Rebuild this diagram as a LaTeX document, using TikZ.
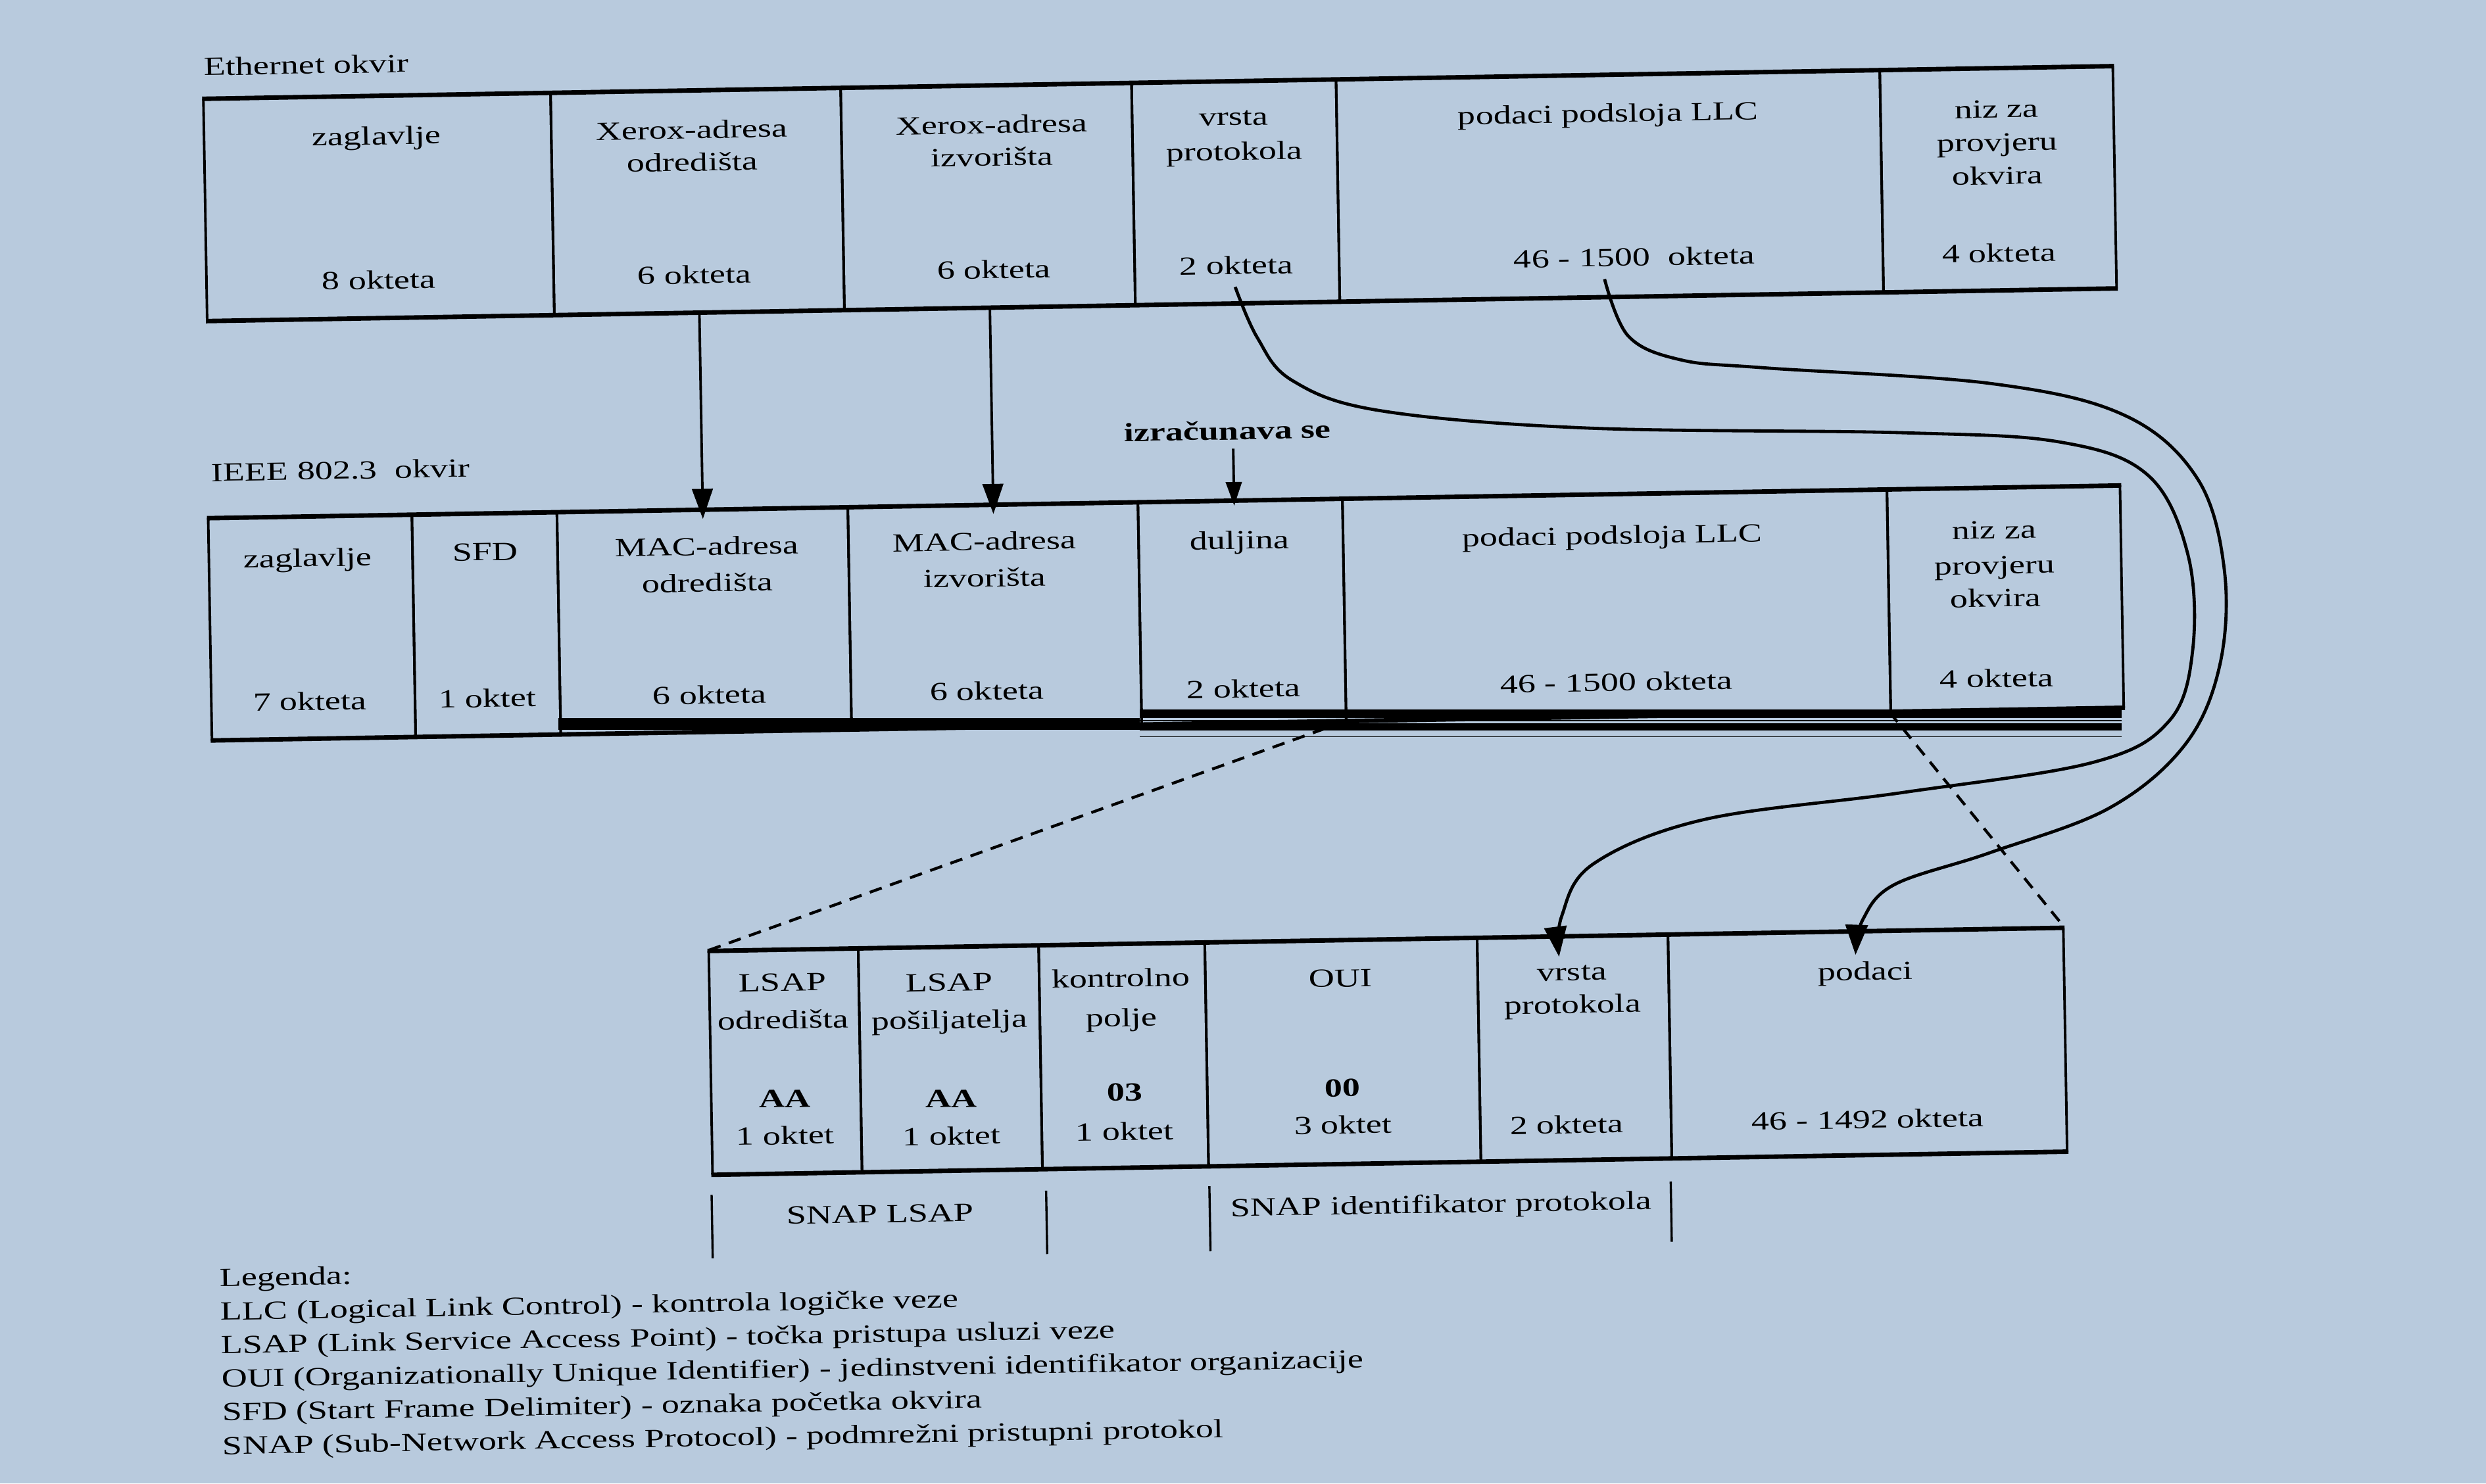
\documentclass[tikz,border=0pt]{standalone}
\usepackage{fontspec}
\setmainfont{Liberation Serif}[FakeStretch=1.36]
\usetikzlibrary{arrows.meta}
\definecolor{bgblue}{RGB}{184,202,221}
\newcommand{\myfs}{\fontsize{16.5}{18}\selectfont}
\newcommand{\mylegfs}{\fontsize{16.5}{21.2}\selectfont}
\begin{document}
\begin{tikzpicture}[x=1pt,y=-1pt,
  cell/.style={draw, line width=1.6pt, inner sep=0pt, anchor=north west, minimum height=139pt},
  frameline/.style={line width=2.5pt},
  lbl/.style={font=\myfs, inner sep=0pt, anchor=base},
  lblw/.style={font=\myfs, inner sep=0pt, anchor=base west},
  arr/.style={line width=1.6pt, -{Triangle[length=19pt,width=13pt]}},
  arrsmall/.style={line width=1.6pt, -{Triangle[length=15pt,width=10pt]}},
  curvearr/.style={line width=2pt, -{Triangle[length=19pt,width=14pt]}},
  dashline/.style={line width=1.8pt, dash pattern=on 8pt off 5.5pt},
  brk/.style={line width=1.4pt}]
\fill[bgblue] (0,0) rectangle (1568,936);
\useasboundingbox (0,0) rectangle (1568,936);
\begin{scope}[rotate around={0.98:(784,468)}, transform shape]
% ---------- Ethernet frame ----------
\node[lblw] (etl) at (136,36.5) {Ethernet okvir};
\node[cell, minimum width=219pt] (e1) at (134.5,51) {};
\node[cell, minimum width=183pt] (e2) at (353.5,51) {};
\node[cell, minimum width=183.5pt] (e3) at (536.5,51) {};
\node[cell, minimum width=129pt] (e4) at (720,51) {};
\node[cell, minimum width=343pt] (e5) at (849,51) {};
\node[cell, minimum width=147pt] (e6) at (1192,51) {};
\draw[frameline] (e1.north west) -- (e6.north east);
\draw[frameline] (e1.south west) -- (e6.south east);
\node[lbl] (e1a) at (244,82) {zaglavlje};
\node[lbl] (e1b) at (244,173) {8 okteta};
\node[lbl] (e2a) at (443,81.5) {Xerox-adresa};
\node[lbl] (e2b) at (443,102) {odredišta};
\node[lbl] (e2c) at (443,173) {6 okteta};
\node[lbl] (e3a) at (632,81.5) {Xerox-adresa};
\node[lbl] (e3b) at (632,102) {izvorišta};
\node[lbl] (e3c) at (632,173) {6 okteta};
\node[lbl] (e4a) at (785,79) {vrsta};
\node[lbl] (e4b) at (785,101) {protokola};
\node[lbl] (e4c) at (785,173) {2 okteta};
\node[lbl] (e5a) at (1021,81) {podaci podsloja LLC};
\node[lbl] (e5b) at (1036,172) {46 - 1500\ \ okteta};
\node[lbl] (e6a) at (1266,82.5) {niz za};
\node[lbl] (e6b) at (1266,103.5) {provjeru};
\node[lbl] (e6c) at (1266,124.5) {okvira};
\node[lbl] (e6d) at (1266,173.5) {4 okteta};
% ---------- IEEE 802.3 frame ----------
\node[lblw] (itl) at (136,292.6) {IEEE 802.3\ \ okvir};
\node[cell, minimum width=128.5pt] (i1) at (133,315.6) {};
\node[cell, minimum width=91.5pt] (i2) at (261.5,315.6) {};
\node[cell, minimum width=183.5pt] (i3) at (353,315.6) {};
\node[cell, minimum width=183pt] (i4) at (536.5,315.6) {};
\node[cell, minimum width=129pt] (i5) at (719.5,315.6) {};
\node[cell, minimum width=343.5pt] (i6) at (848.5,315.6) {};
\node[cell, minimum width=147pt] (i7) at (1192,315.6) {};
\draw[frameline] (i1.north west) -- (i7.north east);
\draw[frameline] (i1.south west) -- (i7.south east);
\node[lbl] (i1a) at (196,347.4) {zaglavlje};
\node[lbl] (i1b) at (196,438) {7 okteta};
\node[lbl] (i2a) at (308,345.5) {SFD};
\node[lbl] (i2b) at (308,438) {1 oktet};
\node[lbl] (i3a) at (448,344.5) {MAC-adresa};
\node[lbl] (i3b) at (448,367.5) {odredišta};
\node[lbl] (i3c) at (448,438.2) {6 okteta};
\node[lbl] (i4a) at (623,344.3) {MAC-adresa};
\node[lbl] (i4b) at (623,367.4) {izvorišta};
\node[lbl] (i4c) at (623,438.8) {6 okteta};
\node[lbl] (i5a) at (784,346.3) {duljina};
\node[lbl] (i5b) at (785,440) {2 okteta};
\node[lbl] (i6a) at (1019,347.2) {podaci podsloja LLC};
\node[lbl] (i6b) at (1020,440) {46 - 1500 okteta};
\node[lbl] (i7a) at (1260,348) {niz za};
\node[lbl] (i7b) at (1260,370.3) {provjeru};
\node[lbl] (i7c) at (1260,391) {okvira};
\node[lbl] (i7d) at (1260,441.7) {4 okteta};
\node[lbl, font=\myfs\bfseries] (izr) at (777.6,277.3) {izračunava se};
% ---------- SNAP frame ----------
\node[cell, minimum width=94.3pt, minimum height=140pt] (s1) at (444,594) {};
\node[cell, minimum width=113.8pt, minimum height=140pt] (s2) at (538.3,594) {};
\node[cell, minimum width=104.8pt, minimum height=140pt] (s3) at (652.1,594) {};
\node[cell, minimum width=171.8pt, minimum height=140pt] (s4) at (756.9,594) {};
\node[cell, minimum width=120.4pt, minimum height=140pt] (s5) at (928.7,594) {};
\node[cell, minimum width=249.4pt, minimum height=140pt] (s6) at (1049.1,594) {};
\draw[frameline] (s1.north west) -- (s6.north east);
\draw[frameline] (s1.south west) -- (s6.south east);
\node[lbl] (s1a) at (491,620.3) {LSAP};
\node[lbl] (s1b) at (491,644) {odredišta};
\node[lbl, font=\myfs\bfseries] (s1c) at (491,693.6) {AA};
\node[lbl] (s1d) at (491,717) {1 oktet};
\node[lbl] (s2a) at (596,622) {LSAP};
\node[lbl] (s2b) at (596,645.7) {pošiljatelja};
\node[lbl, font=\myfs\bfseries] (s2c) at (596,695.4) {AA};
\node[lbl] (s2d) at (596,719) {1 oktet};
\node[lbl] (s3a) at (704.5,621.3) {kontrolno};
\node[lbl] (s3b) at (704.5,646.2) {polje};
\node[lbl, font=\myfs\bfseries] (s3c) at (705.5,693.2) {03};
\node[lbl] (s3d) at (705,718) {1 oktet};
\node[lbl] (s4a) at (843,623.7) {OUI};
\node[lbl, font=\myfs\bfseries] (s4c) at (843,692.8) {00};
\node[lbl] (s4d) at (843,716.3) {3 oktet};
\node[lbl] (s5a) at (989,622.1) {vrsta};
\node[lbl] (s5b) at (989,642.8) {protokola};
\node[lbl] (s5d) at (984,718.6) {2 okteta};
\node[lbl] (s6a) at (1174,625) {podaci};
\node[lbl] (s6d) at (1174,718.5) {46 - 1492 okteta};
% brackets under SNAP frame
\coordinate (b1t) at (444,748); \coordinate (b1b) at (444,788);
\coordinate (b2t) at (655,749); \coordinate (b2b) at (655,789);
\coordinate (b3t) at (758,748); \coordinate (b3b) at (758,789);
\coordinate (b4t) at (1049,750); \coordinate (b4b) at (1049,788);
\draw[brk] (b1t) -- (b1b);
\draw[brk] (b2t) -- (b2b);
\draw[brk] (b3t) -- (b3b);
\draw[brk] (b4t) -- (b4b);
\node[lbl] (sl1) at (550,767.3) {SNAP LSAP};
\node[lbl] (sl2) at (904,767.3) {SNAP identifikator protokola};
% legend (anchor on the baseline of its last line)
\node[font=\mylegfs, inner sep=0pt, anchor=base west, align=left] (lg) at (132.8,906.5) {Legenda:\\
LLC (Logical Link Control) - kontrola logičke veze\\
LSAP (Link Service Access Point) - točka pristupa usluzi veze\\
OUI (Organizationally Unique Identifier) - jedinstveni identifikator organizacije\\
SFD (Start Frame Delimiter) - oznaka početka okvira\\
SNAP (Sub-Network Access Protocol) - podmrežni pristupni protokol};
% straight arrows
\draw[arr] (e2.south) -- ++(0,130);
\draw[arr] (e3.south) -- ++(0,130);
\coordinate (a3s) at (781,283);
\coordinate (a3e) at (781,319);
\draw[arrsmall] (a3s) -- (a3e);
% dashed expansion lines
\draw[dashline] (i6.south west) -- (s1.north west);
\draw[dashline] (i7.south west) -- (s6.north east);
% curve end points
\coordinate (vs) at (784,181);
\coordinate (ve) at (981,607);
\coordinate (ps) at (1017,180);
\coordinate (pe) at (1168,609);
\end{scope}
% thick bars under the IEEE frame
\fill (352,452.8) rectangle (719,460.5);
\fill (719,447.4) rectangle (1338,452.8);
\draw[line width=0.8pt] (719,454.6) -- (1338,454.6);
\fill (719,456.5) rectangle (1338,461);
\draw[line width=0.8pt] (719,464.8) -- (1338,464.8);
% curved arrows
\draw[curvearr] plot[smooth, tension=0.6] coordinates {(vs) (793,213) (815,240) (870,259) (1000,270) (1200,273) (1300,279) (1355,300) (1380,350) (1383,410) (1368,455) (1320,481) (1200,500) (1075,517) (1005,545) (985,578) (ve)};
\draw[curvearr] plot[smooth, tension=0.6] coordinates {(ps) (1027,212) (1060,227) (1112,232) (1256,242) (1340,262) (1386,302) (1403,360) (1400,420) (1378,470) (1330,510) (1255,538) (1195,558) (1175,580) (pe)};
\end{tikzpicture}
\end{document}
